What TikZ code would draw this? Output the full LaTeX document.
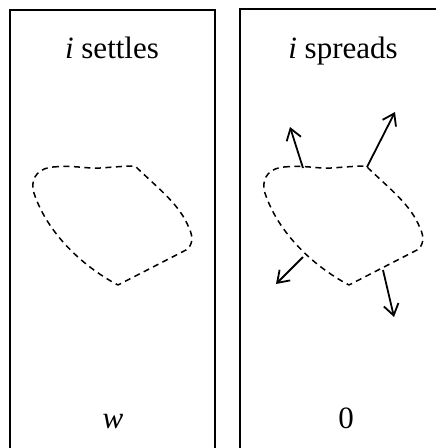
\documentclass[tikz,border=0pt]{standalone}
\usepackage{fontspec}
\setmainfont{Liberation Serif}
\usetikzlibrary{arrows.meta}
\begin{document}
\begin{tikzpicture}[x=1pt,y=-1pt,
  panel/.style={draw=black,line width=1.8pt},
  label/.style={font=\fontsize{31}{36}\selectfont,anchor=base,inner sep=0pt},
  blob/.style={draw=black,line width=1.5pt,dash pattern=on 6pt off 4.5pt,line join=round},
  push/.style={draw=black,line width=1.8pt,-{Straight Barb[length=11pt,width=15pt,line width=1.8pt]}}]
\useasboundingbox (0,0) rectangle (436,448);
\begin{scope}
\clip (0,0) rectangle (436,448);
\draw[panel] (10,10) rectangle (215,470);
\draw[panel] (240,9) rectangle (470,470);
\end{scope}
\node[label] (t1) at (112,58) {{\itshape i} settles};
\node[label] (t2) at (343,58) {{\itshape i} spreads};
\node[label] (w) at (113,428) {{\itshape w}};
\node[label] (z) at (346,428) {0};
% left blob
\draw[blob] (53,167) .. controls (75,165) and (88,169) .. (100,168)
  .. controls (115,167) and (125,166) .. (135,166)
  .. controls (160,190) and (180,205) .. (189,228)
  .. controls (194,238) and (192,246) .. (186,250)
  -- (118,285)
  .. controls (80,265) and (45,230) .. (33,190)
  .. controls (31,176) and (40,168) .. (53,167);
% right blob
\begin{scope}[xshift=231pt]
\draw[blob] (53,167) .. controls (75,165) and (88,169) .. (100,168)
  .. controls (115,167) and (125,166) .. (135,166)
  .. controls (160,190) and (180,205) .. (189,228)
  .. controls (194,238) and (192,246) .. (186,250)
  -- (118,285)
  .. controls (80,265) and (45,230) .. (33,190)
  .. controls (31,176) and (40,168) .. (53,167);
\end{scope}
\coordinate (a1) at (303,168); \coordinate (b1) at (290,127);
\coordinate (a2) at (367,167); \coordinate (b2) at (395,112);
\coordinate (a3) at (303,257); \coordinate (b3) at (276,284);
\coordinate (a4) at (383,270); \coordinate (b4) at (394,317);
\draw[push] (a1) -- (b1);
\draw[push] (a2) -- (b2);
\draw[push] (a3) -- (b3);
\draw[push] (a4) -- (b4);
\end{tikzpicture}
\end{document}
